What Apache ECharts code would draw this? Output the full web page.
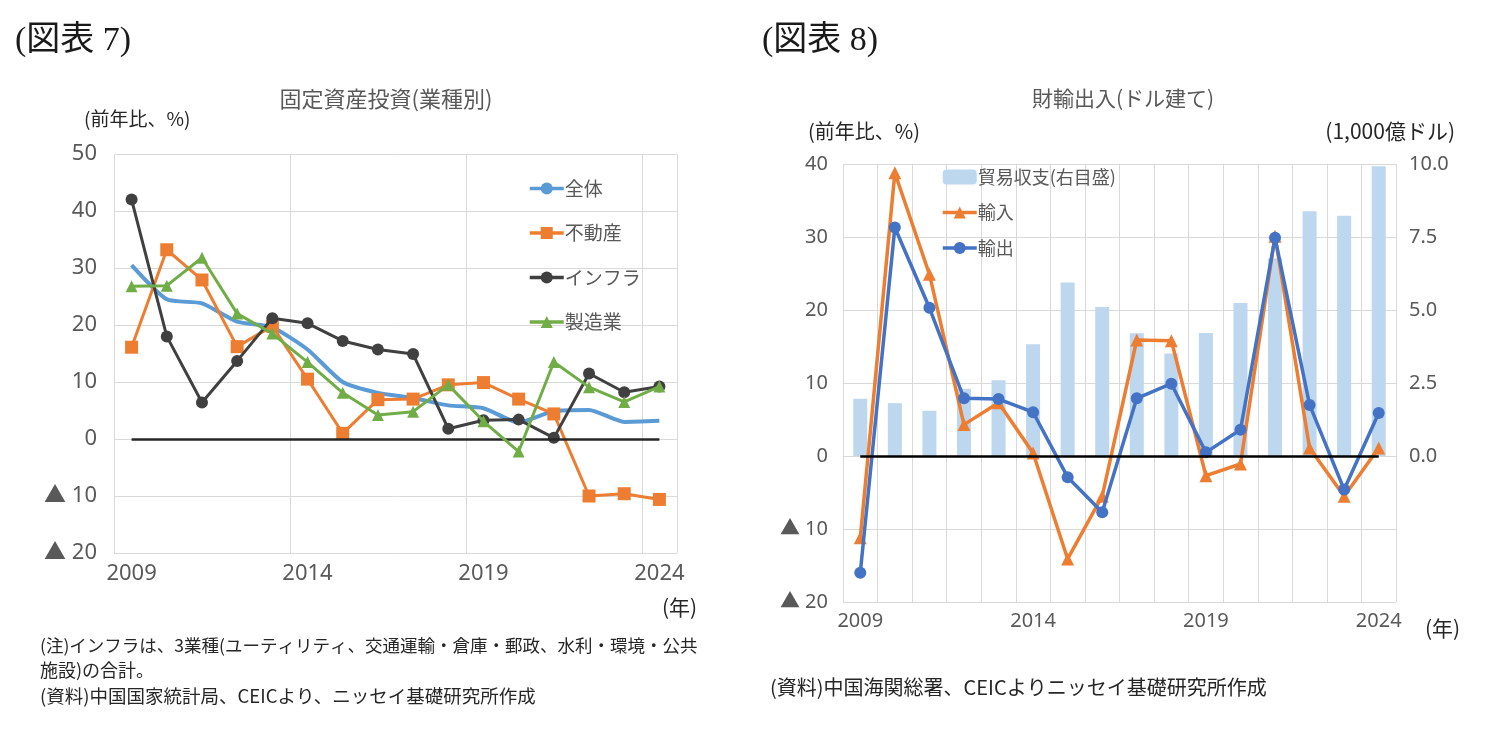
<!DOCTYPE html>
<html><head><meta charset="utf-8">
<script src="https://cdn.jsdelivr.net/npm/echarts@6/dist/echarts.min.js"></script>
<style>html,body{margin:0;padding:0;background:#fff}#c{width:1497px;height:740px}</style>
</head><body><div id="c"></div>
<script>
// ---- Data: 図表7 固定資産投資(業種別) 前年比% ----
const years = ['2009','2010','2011','2012','2013','2014','2015','2016','2017','2018','2019','2020','2021','2022','2023','2024'];
const fixedTotal    = [30.5, 24.5, 23.8, 20.6, 19.6, 15.7, 10.0, 8.1, 7.2, 5.9, 5.4, 2.9, 4.9, 5.1, 3.0, 3.2];
const realEstate    = [16.1, 33.2, 27.9, 16.2, 19.8, 10.5, 1.0, 6.9, 7.0, 9.5, 9.9, 7.0, 4.4, -10.0, -9.6, -10.6];
const infrastructure= [42.0, 18.0, 6.4, 13.7, 21.2, 20.3, 17.2, 15.7, 14.9, 1.8, 3.3, 3.4, 0.2, 11.5, 8.2, 9.2];
const manufacturing = [26.8, 26.9, 31.8, 22.0, 18.5, 13.5, 8.1, 4.2, 4.8, 9.5, 3.1, -2.2, 13.5, 9.1, 6.5, 9.2];
const leftYTicks = {min: -20, max: 50, interval: 10};

// ---- Data: 図表8 財輸出入(ドル建て) ----
const tradeBalance = [1.96, 1.81, 1.55, 2.30, 2.59, 3.83, 5.94, 5.10, 4.20, 3.51, 4.21, 5.24, 6.76, 8.38, 8.23, 9.92]; // 1,000億ドル
const imports = [-11.2, 38.8, 24.9, 4.3, 7.3, 0.4, -14.1, -5.5, 15.9, 15.8, -2.7, -1.1, 30.1, 1.1, -5.5, 1.1];
const exports = [-16.0, 31.3, 20.3, 7.9, 7.8, 6.0, -2.9, -7.7, 7.9, 9.9, 0.5, 3.6, 29.9, 7.0, -4.6, 5.9];
const rightYTicks = {min: -20, max: 40, interval: 10};
const balanceTicks = {min: -5, max: 10, interval: 2.5};

const FONT = '"Noto Sans", "Noto Sans CJK JP", sans-serif';
const JFONT = '"Noto Sans CJK JP", sans-serif';
const GRAY = '#595959';
const DARK = '#262626';
const GRID = '#D9D9D9';
const tri = v => v < 0 ? '▲ ' + (-v) : String(v);

const chart = echarts.init(document.getElementById('c'), null, {renderer: 'canvas'});
chart.setOption({
  animation: false,
  backgroundColor: '#fff',
  textStyle: {fontFamily: FONT},
  grid: [
    {left: 114, top: 154, width: 563, height: 399},
    {left: 843, top: 164, width: 553, height: 438}
  ],
  xAxis: [
    {gridIndex: 0, type: 'category', data: years, boundaryGap: true,
     axisLine: {show: false}, axisTick: {show: false},
     axisLabel: {interval: 4, color: GRAY, fontSize: 22, margin: 10, fontFamily: FONT},
     splitLine: {show: true, interval: 4, lineStyle: {color: GRID, width: 1}}},
    {gridIndex: 1, type: 'category', data: years, boundaryGap: true,
     axisLine: {show: false}, axisTick: {show: false},
     axisLabel: {interval: 4, color: GRAY, fontSize: 20, margin: 9, fontFamily: FONT},
     splitLine: {show: true, interval: 0, lineStyle: {color: GRID, width: 1}}}
  ],
  yAxis: [
    {gridIndex: 0, type: 'value', min: leftYTicks.min, max: leftYTicks.max, interval: leftYTicks.interval,
     axisLine: {show: false}, axisTick: {show: false},
     axisLabel: {color: GRAY, fontSize: 22, margin: 17, formatter: tri, fontFamily: FONT},
     splitLine: {lineStyle: {color: GRID, width: 1}}},
    {gridIndex: 1, type: 'value', min: rightYTicks.min, max: rightYTicks.max, interval: rightYTicks.interval,
     axisLine: {show: false}, axisTick: {show: false},
     axisLabel: {color: GRAY, fontSize: 20, margin: 15, formatter: tri, fontFamily: FONT},
     splitLine: {lineStyle: {color: GRID, width: 1}}},
    {gridIndex: 1, type: 'value', position: 'right', min: balanceTicks.min, max: balanceTicks.max, interval: balanceTicks.interval,
     axisLine: {show: false}, axisTick: {show: false}, splitLine: {show: false},
     axisLabel: {color: GRAY, fontSize: 20, margin: 13, fontFamily: FONT,
       formatter: v => v < 0 ? '' : v.toFixed(1)}}
  ],
  legend: [
    {data: ['全体', '不動産', 'インフラ', '製造業'], orient: 'vertical', left: 523, top: 174,
     itemWidth: 34, itemHeight: 15, itemGap: 25.5, lineStyle: {width: 3.5},
     textStyle: {color: GRAY, fontSize: 19, fontFamily: JFONT, padding: [0,0,0,-4]}},
    {data: ['貿易収支(右目盛)', '輸入', '輸出'], orient: 'vertical', left: 936, top: 163,
     itemWidth: 34, itemHeight: 15, itemGap: 17.5, lineStyle: {width: 3.5},
     textStyle: {color: GRAY, fontSize: 18, fontFamily: JFONT, padding: [0,0,0,-4]}}
  ],
  series: [
    {name: '全体', type: 'line', xAxisIndex: 0, yAxisIndex: 0, data: fixedTotal,
     showSymbol: false, symbol: 'none', smooth: 0.2, lineStyle: {color: '#5B9BD5', width: 4}, itemStyle: {color: '#5B9BD5'},
     markLine: {silent: true, symbol: 'none', label: {show: false},
       lineStyle: {color: '#262626', width: 2.5, type: 'solid'},
       data: [[{coord: ['2009', 0]}, {coord: ['2024', 0]}]]}, z: 2},
    {name: '不動産', type: 'line', xAxisIndex: 0, yAxisIndex: 0, data: realEstate,
     symbol: 'rect', symbolSize: 13, lineStyle: {color: '#ED7D31', width: 3}, itemStyle: {color: '#ED7D31'}, z: 3},
    {name: 'インフラ', type: 'line', xAxisIndex: 0, yAxisIndex: 0, data: infrastructure,
     symbol: 'circle', symbolSize: 12, lineStyle: {color: '#404040', width: 3}, itemStyle: {color: '#404040'}, z: 4},
    {name: '製造業', type: 'line', xAxisIndex: 0, yAxisIndex: 0, data: manufacturing,
     symbol: 'triangle', symbolSize: 12, lineStyle: {color: '#70AD47', width: 3}, itemStyle: {color: '#70AD47'}, z: 5},

    {name: '貿易収支(右目盛)', type: 'bar', xAxisIndex: 1, yAxisIndex: 2, data: tradeBalance,
     barWidth: 14, itemStyle: {color: '#BDD7EE'}, z: 1,
     markLine: {silent: true, symbol: 'none', label: {show: false},
       lineStyle: {color: '#000', width: 2.5, type: 'solid'},
       data: [[{coord: ['2009', 0]}, {coord: ['2024', 0]}]]}},
    {name: '輸入', type: 'line', xAxisIndex: 1, yAxisIndex: 1, data: imports,
     symbol: 'triangle', symbolSize: 13, lineStyle: {color: '#ED7D31', width: 3.5}, itemStyle: {color: '#ED7D31'}, z: 3},
    {name: '輸出', type: 'line', xAxisIndex: 1, yAxisIndex: 1, data: exports,
     symbol: 'circle', symbolSize: 12, lineStyle: {color: '#4472C4', width: 3.5}, itemStyle: {color: '#4472C4'}, z: 4}
  ],
  graphic: [
    {type: 'text', x: 15, y: 41, style: {text: '(図表 7)', font: '34px "Liberation Serif", "Noto Sans CJK JP", serif', fill: '#1a1a1a', textVerticalAlign: 'middle'}},
    {type: 'text', x: 762, y: 41, style: {text: '(図表 8)', font: '34px "Liberation Serif", "Noto Sans CJK JP", serif', fill: '#1a1a1a', textVerticalAlign: 'middle'}},
    {type: 'text', x: 386, y: 99, style: {text: '固定資産投資(業種別)', font: '22px "Noto Sans CJK JP"', fill: GRAY, textAlign: 'center', textVerticalAlign: 'middle'}},
    {type: 'text', x: 84, y: 119, style: {text: '(前年比、%)', font: '19px "Noto Sans CJK JP"', fill: DARK, textVerticalAlign: 'middle'}},
    {type: 'text', x: 662, y: 607, style: {text: '(年)', font: '21px "Noto Sans CJK JP"', fill: DARK, textVerticalAlign: 'middle'}},
    {type: 'text', x: 1123, y: 98, style: {text: '財輸出入(ドル建て)', font: '21px "Noto Sans CJK JP"', fill: GRAY, textAlign: 'center', textVerticalAlign: 'middle'}},
    {type: 'text', x: 808, y: 131, style: {text: '(前年比、%)', font: '20px "Noto Sans CJK JP"', fill: DARK, textVerticalAlign: 'middle'}},
    {type: 'text', x: 1455, y: 131, style: {text: '(1,000億ドル)', font: '21px "Noto Sans CJK JP"', fill: DARK, textAlign: 'right', textVerticalAlign: 'middle'}},
    {type: 'text', x: 1425, y: 628, style: {text: '(年)', font: '21px "Noto Sans CJK JP"', fill: DARK, textVerticalAlign: 'middle'}},
    {type: 'text', x: 40, y: 645, style: {text: '(注)インフラは、3業種(ユーティリティ、交通運輸・倉庫・郵政、水利・環境・公共', font: '17.5px "Noto Sans CJK JP"', fill: DARK, textVerticalAlign: 'middle'}},
    {type: 'text', x: 40, y: 670, style: {text: '施設)の合計。', font: '18px "Noto Sans CJK JP"', fill: DARK, textVerticalAlign: 'middle'}},
    {type: 'text', x: 40, y: 696, style: {text: '(資料)中国国家統計局、CEICより、ニッセイ基礎研究所作成', font: '18.5px "Noto Sans CJK JP"', fill: DARK, textVerticalAlign: 'middle'}},
    {type: 'text', x: 770, y: 687, style: {text: '(資料)中国海関総署、CEICよりニッセイ基礎研究所作成', font: '20px "Noto Sans CJK JP"', fill: DARK, textVerticalAlign: 'middle'}}
  ]
});
</script>
</body></html>
